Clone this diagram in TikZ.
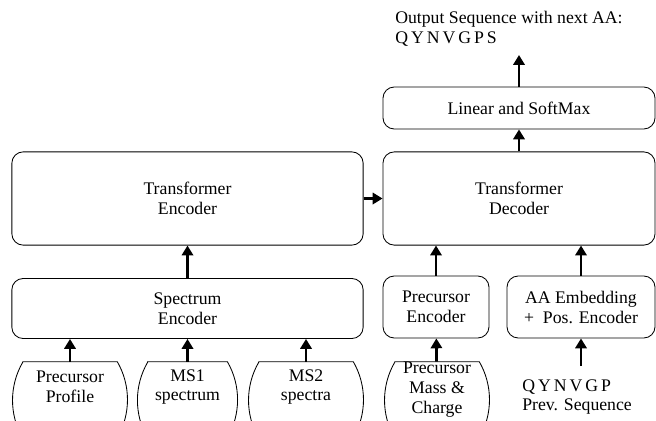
\documentclass[tikz,border=0pt]{standalone}
\usepackage{fontspec}
\setmainfont{Liberation Serif}
\usetikzlibrary{shapes, arrows.meta}

\begin{document}
\begin{tikzpicture}[x=0.025cm, y=-0.025cm]
    % Define display style
    \tikzstyle{block}=[draw, rounded corners=8pt, line width=0.6pt, align=center, inner sep=0pt, font=\fontsize{12.6}{14.2}\selectfont]
    \tikzstyle{oval}=[rectangle, inner sep=0pt, minimum height=1.9cm]
    \tikzstyle{words}=[inner sep=0pt, font=\fontsize{12.6}{14.2}\selectfont]
    \tikzstyle{flow}=[line width=2pt, -{Triangle[length=7pt, width=8pt]}]

    % Fix the page
    \useasboundingbox (0,0) rectangle (656,420);

    % Define column positions
    \newcommand\EncX{187.5}
    \newcommand\DecX{519}
    \newcommand\PreX{436}
    \newcommand\AAX{581}

    % Draw the main blocks
    \node[block, minimum width=8.78cm, minimum height=2.33cm] (enc) at (\EncX, 198.5) {Transformer\\Encoder};
    \node[block, minimum width=6.8cm, minimum height=2.33cm] (dec) at (\DecX, 198.5) {Transformer\\Decoder};
    \node[block, minimum width=6.8cm, minimum height=1.05cm] (lin) at (\DecX, 108) {Linear and SoftMax};
    \node[block, minimum width=8.78cm, minimum height=1.5cm] (spec) at (\EncX, 308.5) {Spectrum\\Encoder};
    \node[block, minimum width=2.65cm, minimum height=1.55cm] (pre) at (\PreX, 307) {Precursor\\Encoder};
    \node[block, minimum width=3.7cm, minimum height=1.55cm] (aa) at (\AAX, 307) {AA Embedding\\+\ \ Pos. Encoder};

    % Draw the inputs at the bottom
    \node[oval, minimum width=2.85cm] (profbox) at (70, 400) {};
    \node[oval, minimum width=2.48cm] (msonebox) at (\EncX, 400) {};
    \node[oval, minimum width=2.85cm] (mstwobox) at (306, 400) {};
    \node[oval, minimum width=2.6cm] (massbox) at (437, 400) {};

    \foreach \inputName in {profbox, msonebox, mstwobox, massbox}
        \draw[line width=0.6pt] ([xshift=0.25cm]\inputName.north west) -- ([xshift=-0.25cm]\inputName.north east)
            arc[start angle=30, end angle=-30, radius=1.9cm] -- ([xshift=0.25cm]\inputName.south west)
            arc[start angle=210, end angle=150, radius=1.9cm] -- cycle;

    \node[words, align=center] (prof) at (70, 387) {Precursor\\Profile};
    \node[words, align=center] (msone) at (\EncX, 387) {MS1\\spectrum};
    \node[words, align=center] (mstwo) at (306, 387) {MS2\\spectra};
    \node[words, align=center] (mass) at (437, 390) {Precursor\\Mass \&\\Charge};

    % Texts for the sequences
    \node[words, align=left, anchor=north west] (outseq) at (395, 11) {Output Sequence with next AA:\\Q\,Y\,N\,V\,G\,P\,S};
    \node[words, align=left, anchor=north west] (prevseq) at (522, 379) {Q\,Y\,N\,V\,G\,P\\Prev. Sequence};

    \coordinate (outtip) at (\DecX, 55);
    \coordinate (prevtail) at (\AAX, 366);

    % Draw the arrows
    \draw[flow] (enc) -- (dec);
    \draw[flow] (spec) -- (enc);
    \draw[flow] (dec) -- (lin);
    \draw[flow] (lin) -- (outtip);
    \draw[flow] (pre) -- (pre |- dec.south);
    \draw[flow] (aa) -- (aa |- dec.south);
    \draw[flow] (prevtail) -- (aa);
    \draw[flow] (massbox) -- (pre);

    \foreach \inputName in {profbox, msonebox, mstwobox}
        \draw[flow] (\inputName) -- (\inputName |- spec.south);
\end{tikzpicture}
\end{document}
